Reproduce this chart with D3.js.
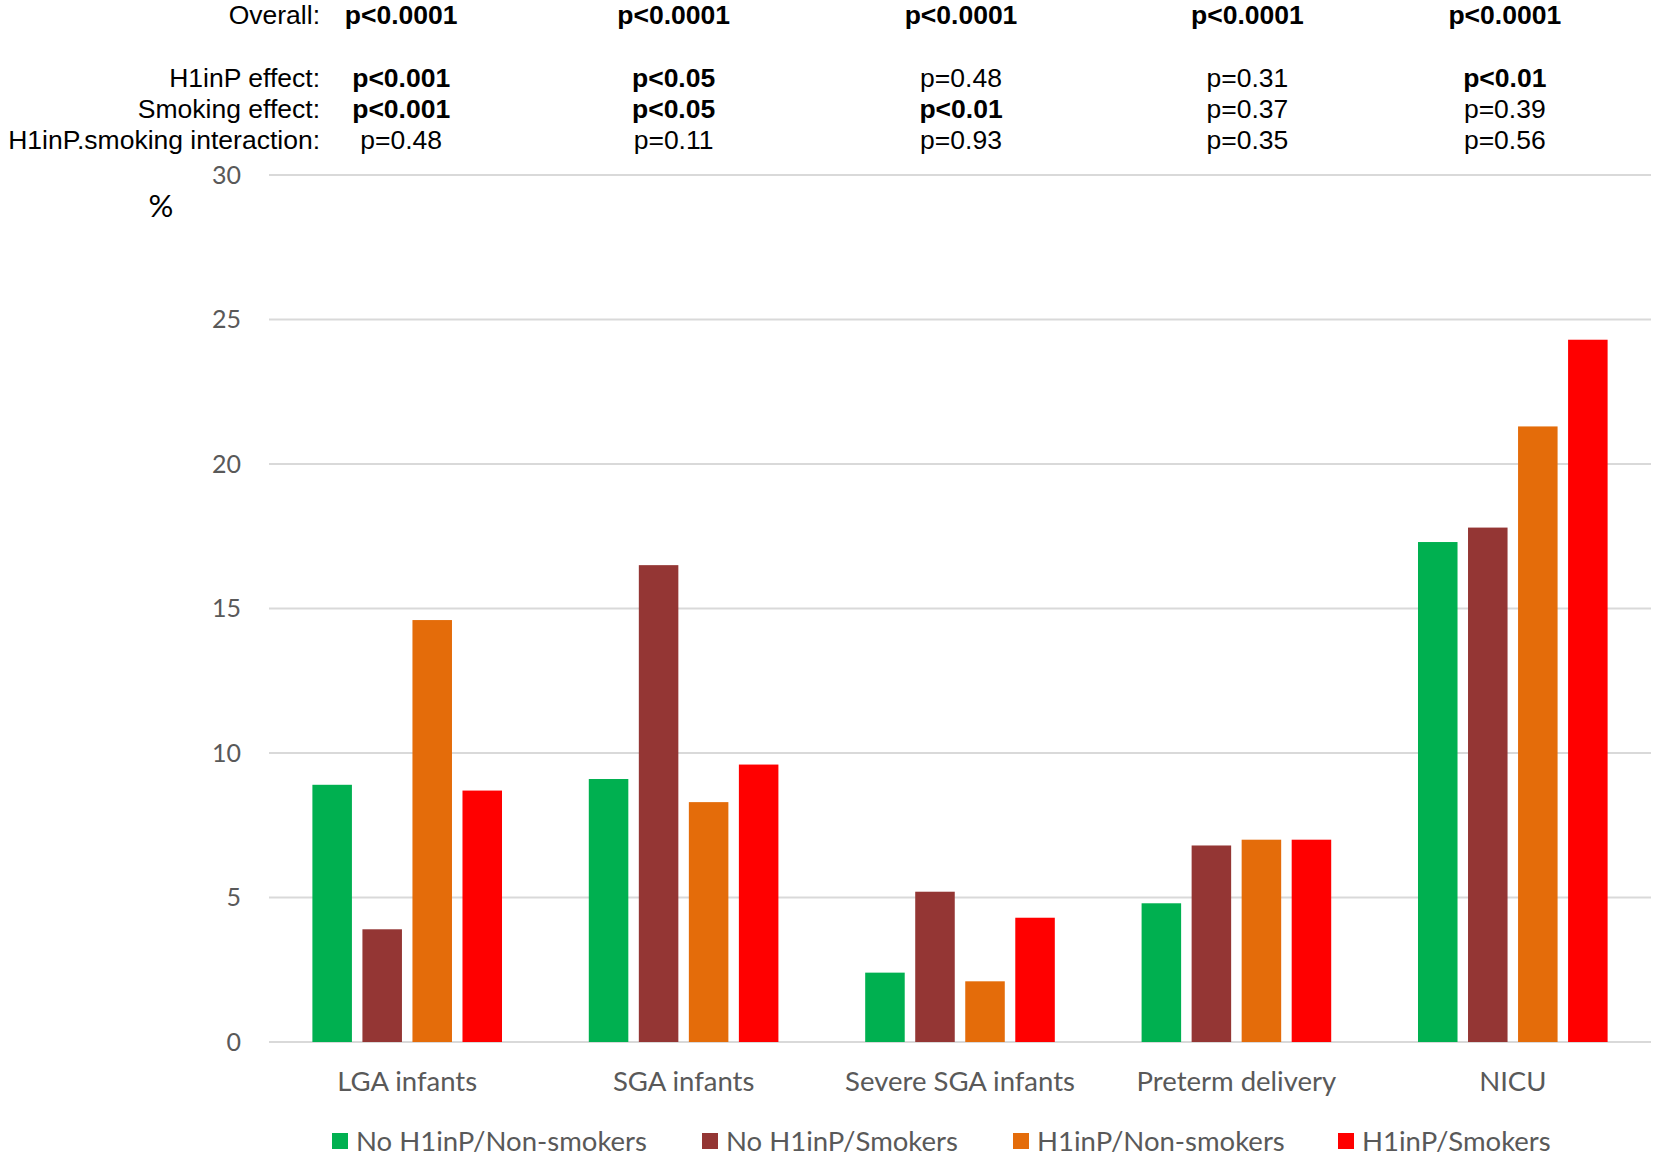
<!DOCTYPE html>
<html>
<head>
<meta charset="utf-8">
<script src="https://cdn.jsdelivr.net/npm/d3@7"></script>
<style>
  body { margin: 0; background: #fff; }
</style>
</head>
<body>
<svg id="chart"></svg>
<script>
// Data
const categories = ["LGA infants", "SGA infants", "Severe SGA infants", "Preterm delivery", "NICU"];
const seriesNames = ["No H1inP/Non-smokers", "No H1inP/Smokers", "H1inP/Non-smokers", "H1inP/Smokers"];
const noH1inPNonSmokers = [8.9, 9.1, 2.4, 4.8, 17.3];
const noH1inPSmokers = [3.9, 16.5, 5.2, 6.8, 17.8];
const h1inPNonSmokers = [14.6, 8.3, 2.1, 7.0, 21.3];
const h1inPSmokers = [8.7, 9.6, 4.3, 7.0, 24.3];
const yTicks = [0, 5, 10, 15, 20, 25, 30];

// p-value rows: label, values per category, which ones are bold
const rowLabels = ["Overall:", "H1inP effect:", "Smoking effect:", "H1inP.smoking interaction:"];
const overallP = ["p<0.0001", "p<0.0001", "p<0.0001", "p<0.0001", "p<0.0001"];
const h1inpP = ["p<0.001", "p<0.05", "p=0.48", "p=0.31", "p<0.01"];
const smokingP = ["p<0.001", "p<0.05", "p<0.01", "p=0.37", "p=0.39"];
const interactionP = ["p=0.48", "p=0.11", "p=0.93", "p=0.35", "p=0.56"];

const colors = ["#00b050", "#943634", "#e46c0a", "#ff0000"];
const series = [noH1inPNonSmokers, noH1inPSmokers, h1inPNonSmokers, h1inPSmokers];

let width = 1654,
  height = 1156;
let margin = { top: 175, bottom: 114, left: 269, right: 3 };

let svg = d3.select("#chart").attr("width", width).attr("height", height);

let xScale = d3
  .scaleBand()
  .domain(categories)
  .range([margin.left, width - margin.right]);

let yScale = d3
  .scaleLinear()
  .domain([0, 30])
  .range([height - margin.bottom, margin.top]);

// bars within each band
let barW = xScale.bandwidth() * 0.143;
let pitch = xScale.bandwidth() * 0.181;
let inner = d3
  .scaleBand()
  .domain(d3.range(4))
  .range([0, pitch * 4]);

// gridlines
svg
  .append("g")
  .selectAll("line")
  .data(yTicks)
  .enter()
  .append("line")
  .attr("x1", margin.left)
  .attr("x2", width - margin.right)
  .attr("y1", (d) => yScale(d))
  .attr("y2", (d) => yScale(d))
  .attr("stroke", "#d9d9d9")
  .attr("stroke-width", 2);

// y axis labels
let yAxis = svg
  .append("g")
  .attr("transform", `translate(${margin.left - 28}, 0)`)
  .call(d3.axisLeft(yScale).tickValues(yTicks).tickSize(0).tickPadding(0));
yAxis.select(".domain").remove();
yAxis
  .selectAll("text")
  .attr("font-family", "Lato, 'Open Sans', sans-serif")
  .attr("font-size", "25px")
  .attr("fill", "#595959");

svg
  .append("text")
  .attr("x", 161)
  .attr("y", 217)
  .attr("text-anchor", "middle")
  .attr("font-family", "Lato, sans-serif")
  .attr("font-size", "31px")
  .attr("fill", "#000")
  .text("%");

// bars
series.forEach(function (vals, i) {
  svg
    .append("g")
    .selectAll("rect")
    .data(categories)
    .enter()
    .append("rect")
    .attr("x", (d) => xScale(d) + xScale.bandwidth() / 2 - pitch * 2 + inner(i) + (pitch - barW) / 2)
    .attr("y", (d, j) => yScale(vals[j]))
    .attr("width", barW)
    .attr("height", (d, j) => yScale(0) - yScale(vals[j]))
    .attr("fill", colors[i]);
});

// x axis labels
let xAxis = svg
  .append("g")
  .attr("transform", `translate(0, ${yScale(0) + 29})`)
  .call(d3.axisBottom(xScale).tickSize(0).tickPadding(0));
xAxis.select(".domain").remove();
xAxis
  .selectAll("text")
  .attr("font-family", "Lato, 'Open Sans', sans-serif")
  .attr("font-size", "27.5px")
  .attr("fill", "#595959");

// p-value table
let pRows = [overallP, h1inpP, smokingP, interactionP];
let rowY = [24, 87, 118, 149];
let colShift = [-6, -10, 1, 11, -8];
rowLabels.forEach(function (label, r) {
  svg
    .append("text")
    .attr("x", 320)
    .attr("y", rowY[r])
    .attr("text-anchor", "end")
    .attr("font-family", "'Liberation Sans', Arial, sans-serif")
    .attr("font-size", "26.5px")
    .attr("fill", "#000")
    .text(label);

  svg
    .append("g")
    .selectAll("text")
    .data(categories)
    .enter()
    .append("text")
    .attr("x", (d, j) => xScale(d) + xScale.bandwidth() / 2 + colShift[j])
    .attr("y", rowY[r])
    .attr("text-anchor", "middle")
    .attr("font-family", "'Liberation Sans', Arial, sans-serif")
    .attr("font-size", "26.5px")
    .attr("font-weight", (d, j) => (pRows[r][j].indexOf("<") >= 0 ? "bold" : "normal"))
    .attr("fill", "#000")
    .text((d, j) => pRows[r][j]);
});

// legend
let legendX = [332, 702, 1013, 1338];
let legend = svg
  .append("g")
  .selectAll("g")
  .data(seriesNames)
  .enter()
  .append("g")
  .attr("transform", (d, i) => `translate(${legendX[i]}, 1141)`);
legend
  .append("rect")
  .attr("x", 0)
  .attr("y", -8)
  .attr("width", 16)
  .attr("height", 16)
  .attr("fill", (d, i) => colors[i]);
legend
  .append("text")
  .attr("x", 24)
  .attr("y", 0)
  .attr("dy", "0.35em")
  .attr("font-family", "Lato, 'Open Sans', sans-serif")
  .attr("font-size", "27.5px")
  .attr("fill", "#595959")
  .text((d) => d);
</script>
</body>
</html>
